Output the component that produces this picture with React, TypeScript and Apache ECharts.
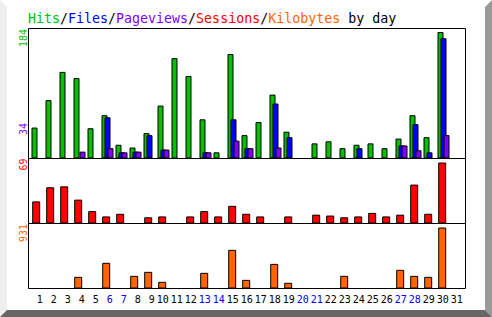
import React, { useEffect, useRef } from "react";
import * as echarts from "echarts";

const days = ["1","2","3","4","5","6","7","8","9","10","11","12","13","14","15","16","17","18","19","20","21","22","23","24","25","26","27","28","29","30","31"];
const weekendDays = ["6","7","13","14","20","21","27","28"];

const hits = [45,85,126,117,44,63,20,16,37,77,146,120,57,9,152,34,53,93,39,0,22,25,15,20,22,15,29,63,31,184,0];
const files = [0,0,0,0,0,60,9,10,34,13,0,0,9,0,57,15,0,80,31,0,0,0,0,15,0,0,19,50,9,175,0];
const pages = [0,0,0,10,0,15,9,10,0,13,0,0,9,0,26,15,0,16,0,0,0,0,0,0,0,0,19,12,0,34,0];
const sessions = [25,41,42,27,14,8,11,0,7,8,0,8,14,8,20,11,8,0,8,0,10,9,7,8,12,8,10,44,11,69,0];
const kbytes = [0,0,0,178,0,392,0,193,254,102,0,0,239,0,590,132,0,376,87,0,0,0,193,0,0,0,285,193,178,931,0];

const C_HITS = "#00c000";
const C_FILES = "#0000ff";
const C_PAGES = "#8000ff";
const C_SESS = "#ff0000";
const C_KB = "#ff6600";
const MONO = "'DejaVu Sans Mono', monospace";

const nz = (arr: number[]) => arr.map((v) => (v === 0 ? "-" : v));

export default function App() {
  const ref = useRef<HTMLDivElement>(null);
  useEffect(() => {
    if (!ref.current) return;
    const chart = echarts.init(ref.current, null, { renderer: "svg" });
    const maxHits = Math.max(...hits);
    const maxPages = Math.max(...pages);
    const maxSess = Math.max(...sessions);
    const maxKb = Math.max(...kbytes);
    const barStyle = (c: string) => ({ color: c, borderColor: "#000", borderWidth: 1 });
    const hiddenX = (i: number) => ({
      type: "category" as const, gridIndex: i, data: days, show: false,
    });
    const rotLabel = (txt: string, y: number, color: string) => ({
      type: "text", x: 23.5, y, rotation: Math.PI / 2, z: 10,
      style: { text: txt, fill: color, fontSize: 10, fontFamily: MONO, align: "left", verticalAlign: "middle" },
    });
    chart.setOption({
      animation: false,
      backgroundColor: "#ffffff",
      grid: [
        { left: 30.5, top: 32, width: 434, height: 126.5 },
        { left: 29.2, top: 162.5, width: 434, height: 61 },
        { left: 29.2, top: 227.5, width: 434, height: 61 },
        { left: 35.7, top: 227.5, width: 434, height: 61 },
      ],
      xAxis: [
        hiddenX(0), hiddenX(1), hiddenX(2),
        {
          type: "category", gridIndex: 3, data: days,
          axisLine: { show: false }, axisTick: { show: false }, splitLine: { show: false },
          axisLabel: {
            interval: 0, align: "right", verticalAlign: "middle", margin: 11,
            fontFamily: MONO, fontSize: 10,
            color: (v: string) => (weekendDays.includes(v) ? "#0000ff" : "#000000"),
          },
        },
      ],
      yAxis: [
        { type: "value", gridIndex: 0, min: 0, max: maxHits, show: false },
        { type: "value", gridIndex: 1, min: 0, max: maxSess, show: false },
        { type: "value", gridIndex: 2, min: 0, max: maxKb, show: false },
        { type: "value", gridIndex: 3, min: 0, max: 1, show: false },
      ],
      series: [
        { name: "Hits", type: "bar", xAxisIndex: 0, yAxisIndex: 0, data: nz(hits), barWidth: 6, barGap: "-50%", itemStyle: barStyle(C_HITS) },
        { name: "Files", type: "bar", xAxisIndex: 0, yAxisIndex: 0, data: nz(files), barWidth: 6, barGap: "-50%", itemStyle: barStyle(C_FILES) },
        { name: "Pageviews", type: "bar", xAxisIndex: 0, yAxisIndex: 0, data: nz(pages), barWidth: 6, barGap: "-50%", itemStyle: barStyle(C_PAGES) },
        { name: "Sessions", type: "bar", xAxisIndex: 1, yAxisIndex: 1, data: nz(sessions), barWidth: 8, itemStyle: barStyle(C_SESS) },
        { name: "Kilobytes", type: "bar", xAxisIndex: 2, yAxisIndex: 2, data: nz(kbytes), barWidth: 8, itemStyle: barStyle(C_KB) },
      ],
      graphic: [
        { type: "polygon", z: 0, shape: { points: [[0, 0], [7, 7], [7, 310], [0, 317]] }, style: { fill: "#efefef" } },
        { type: "polygon", z: 0, shape: { points: [[492, 0], [485, 7], [485, 310], [492, 317]] }, style: { fill: "#999999" } },
        { type: "polygon", z: 0, shape: { points: [[0, 317], [7, 310], [485, 310], [492, 317]] }, style: { fill: "#666666" } },
        { type: "rect", z: 10, shape: { x: 28.5, y: 28.5, width: 437, height: 260 }, style: { fill: "none", stroke: "#000", lineWidth: 1 } },
        { type: "line", z: 10, shape: { x1: 28.5, y1: 158.5, x2: 465.5, y2: 158.5 }, style: { stroke: "#000", lineWidth: 1 } },
        { type: "line", z: 10, shape: { x1: 28.5, y1: 223.5, x2: 465.5, y2: 223.5 }, style: { stroke: "#000", lineWidth: 1 } },
        {
          type: "text", x: 28, y: 18.3, z: 10,
          style: {
            text: "{g|Hits}{k|/}{b|Files}{k|/}{p|Pageviews}{k|/}{r|Sessions}{k|/}{o|Kilobytes}{k| by day}",
            fontFamily: MONO, fontSize: 13.3, align: "left", verticalAlign: "middle",
            rich: {
              g: { fill: C_HITS, fontFamily: MONO, fontSize: 13.3 },
              k: { fill: "#000000", fontFamily: MONO, fontSize: 13.3 },
              b: { fill: C_FILES, fontFamily: MONO, fontSize: 13.3 },
              p: { fill: C_PAGES, fontFamily: MONO, fontSize: 13.3 },
              r: { fill: C_SESS, fontFamily: MONO, fontSize: 13.3 },
              o: { fill: C_KB, fontFamily: MONO, fontSize: 13.3 },
            },
          },
        },
        rotLabel(String(maxHits), 47, C_HITS),
        rotLabel(String(maxPages), 135, C_PAGES),
        rotLabel(String(maxSess), 170.5, C_SESS),
        rotLabel(String(maxKb), 242, C_KB),
      ],
    });
    return () => chart.dispose();
  }, []);
  return <div ref={ref} style={{ position: "fixed", left: 0, top: 0, width: 492, height: 317 }} />;
}
